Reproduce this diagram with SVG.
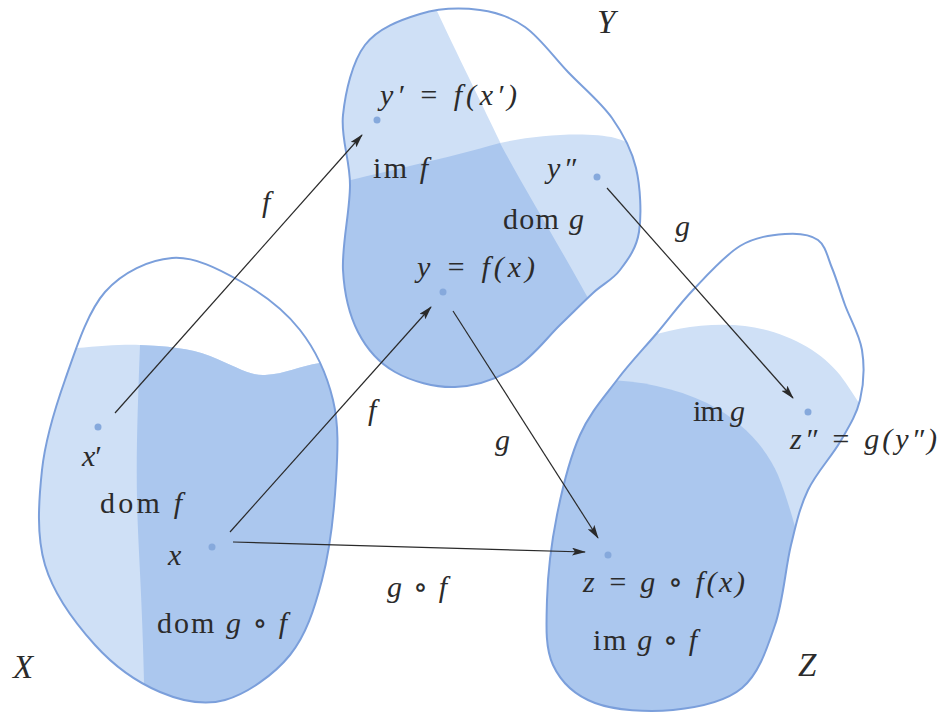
<svg xmlns="http://www.w3.org/2000/svg" width="946" height="713" viewBox="0 0 946 713">
<style>
.out{fill:none;stroke:#7b9fdb;stroke-width:2}
.bg{fill:#ffffff}
.lt{fill:#cfe0f6}
.dk{fill:#abc7ee}
.pt{fill:#86a9dc}
.ar{stroke:#2a2a2a;stroke-width:1.2;fill:none;marker-end:url(#ah)}
text{font-family:"Liberation Serif","DejaVu Serif",serif;font-size:30px;fill:#2b2b2b}
.it{font-style:italic}
.big{font-size:33px;font-style:italic}
</style>
<defs>
<marker id="ah" viewBox="0 0 14 8" refX="13" refY="4" markerWidth="14" markerHeight="8" markerUnits="userSpaceOnUse" orient="auto">
<path d="M0,0 L14,4 L0,8 L3,4 Z" fill="#2a2a2a"/>
</marker>
<path id="pX" d="M172,258 C194.5,256.2 218.7,269 240,281 C261.3,293 284.5,310.2 300,330 C315.5,349.8 327,375 333,400 C339,425 337.8,450 336,480 C334.2,510 329.7,550.8 322,580 C314.3,609.2 306.2,635 290,655 C273.8,675 246.7,693.8 225,700 C203.3,706.2 181.7,701.2 160,692 C138.3,682.8 114.2,666.2 95,645 C75.8,623.8 53.8,594.2 45,565 C36.2,535.8 38.7,500.8 42,470 C45.3,439.2 54.5,409.7 65,380 C75.5,350.3 87.2,312.3 105,292 C122.8,271.7 149.5,259.8 172,258 Z"/>
<path id="pY" d="M480,10 C497.5,12.2 510.3,16.7 525,27 C539.7,37.3 553.5,56.8 568,72 C582.5,87.2 600.7,102 612,118 C623.3,134 631.5,149 636,168 C640.5,187 641.7,215 639,232 C636.3,249 627.7,259.8 620,270 C612.3,280.2 603,283.8 593,293 C583,302.2 573,312.5 560,325 C547,337.5 532.5,357.7 515,368 C497.5,378.3 475,386.3 455,387 C435,387.7 411.2,381.2 395,372 C378.8,362.8 366.7,349 358,332 C349.3,315 344.3,294.5 343,270 C341.7,245.5 350,210.8 350,185 C350,159.2 340.5,138.3 343,115 C345.5,91.7 352.2,61.8 365,45 C377.8,28.2 400.8,19.8 420,14 C439.2,8.2 462.5,7.8 480,10 Z"/>
<path id="pZ" d="M785,234 C798,233 810.2,234.3 818,240 C825.8,245.7 827.5,257.2 832,268 C836.5,278.8 840,291.3 845,305 C850,318.7 859.5,334.2 862,350 C864.5,365.8 863.7,384.7 860,400 C856.3,415.3 848.7,427 840,442 C831.3,457 816.2,472.8 808,490 C799.8,507.2 796.5,522.5 791,545 C785.5,567.5 783.2,601.2 775,625 C766.8,648.8 759,673.8 742,688 C725,702.2 697.5,707.5 673,710 C648.5,712.5 615,710.5 595,703 C575,695.5 561,682.2 553,665 C545,647.8 546.3,625 547,600 C547.7,575 551.5,542.5 557,515 C562.5,487.5 570,457.5 580,435 C590,412.5 604.2,397 617,380 C629.8,363 644.3,348 657,333 C669.7,318 679.2,304.5 693,290 C706.8,275.5 724.7,255.3 740,246 C755.3,236.7 772,235 785,234 Z"/>
<clipPath id="cX"><use href="#pX"/></clipPath>
<clipPath id="cY"><use href="#pY"/></clipPath>
<clipPath id="cZ"><use href="#pZ"/></clipPath>
</defs>
<rect width="946" height="713" fill="#ffffff"/>

<g id="X">
<use href="#pX" class="bg"/>
<g clip-path="url(#cX)">
<path class="lt" d="M0,348 L77,348 C100,346 125,344 140,345 C165,346 190,348 210,356 C235,366 250,376 265,375 C285,374 300,366 320,363 L400,360 L400,720 L0,720 Z"/>
<path class="dk" d="M140,345 C165,346 190,348 210,356 C235,366 250,376 265,375 C285,374 300,366 320,363 L400,360 L400,720 L145,720 C143,600 138,550 137,500 C136,450 138,400 140,345 Z"/>
</g>
<use href="#pX" class="out"/>
<circle class="pt" cx="98" cy="427" r="3.5"/>
<circle class="pt" cx="212" cy="547" r="3.5"/>
<text class="it" x="82" y="466" textLength="18">x′</text>
<text x="100" y="513" textLength="82">dom <tspan class="it">f</tspan></text>
<text class="it" x="168" y="565">x</text>
<text x="157" y="633" textLength="130">dom <tspan class="it">g</tspan> ∘ <tspan class="it">f</tspan></text>
<text class="big" x="13" y="678">X</text>
</g>

<g id="Y">
<use href="#pY" class="bg"/>
<g clip-path="url(#cY)">
<path class="lt" d="M300,0 L432,0 C450,40 485,110 500,142 C525,190 565,255 600,320 L620,420 L300,420 Z"/>
<path class="lt" d="M330,185 C370,175 440,160 500,143 C540,134 590,132 615,138 C630,142 645,150 660,160 L660,420 L330,420 Z"/>
<path class="dk" d="M330,185 C370,175 440,160 500,143 C525,190 565,255 600,320 L620,420 L330,420 Z"/>
</g>
<use href="#pY" class="out"/>
<circle class="pt" cx="377" cy="120" r="3.5"/>
<circle class="pt" cx="443" cy="292" r="3.5"/>
<circle class="pt" cx="597" cy="177" r="3.5"/>
<text class="it" x="380" y="105" textLength="137">y′ = f(x′)</text>
<text x="373" y="178" textLength="55">im <tspan class="it">f</tspan></text>
<text class="it" x="547" y="178" textLength="29">y″</text>
<text x="503" y="229" textLength="81">dom <tspan class="it">g</tspan></text>
<text class="it" x="417" y="277" textLength="118">y = f(x)</text>
<text class="big" x="597" y="33">Y</text>
</g>

<g id="Z">
<use href="#pZ" class="bg"/>
<g clip-path="url(#cZ)">
<path class="lt" d="M640,340 C670,328 710,322 745,326 C785,331 820,350 840,375 C850,388 860,405 870,420 L870,713 L540,713 L540,340 Z"/>
<path class="dk" d="M600,380 C640,380 675,388 707,403 C740,420 765,445 778,475 C786,495 792,515 800,545 L800,713 L540,713 L540,380 Z"/>
</g>
<use href="#pZ" class="out"/>
<circle class="pt" cx="808" cy="412" r="3.5"/>
<circle class="pt" cx="608" cy="555" r="3.5"/>
<text x="693" y="421" textLength="52">im <tspan class="it">g</tspan></text>
<text class="it" x="790" y="449" textLength="147">z″ = g(y″)</text>
<text class="it" x="583" y="592" textLength="162">z = g ∘ f(x)</text>
<text x="593" y="650" textLength="104">im <tspan class="it">g</tspan> ∘ <tspan class="it">f</tspan></text>
<text class="big" x="798" y="676">Z</text>
</g>

<g id="connectors">
<line class="ar" x1="115" y1="413" x2="362" y2="135"/>
<line class="ar" x1="230" y1="532" x2="431" y2="307"/>
<line class="ar" x1="453" y1="311" x2="598" y2="538"/>
<line class="ar" x1="233" y1="542" x2="585" y2="552"/>
<line class="ar" x1="607" y1="188" x2="793" y2="398"/>
<text class="it" x="262" y="212">f</text>
<text class="it" x="368" y="420">f</text>
<text class="it" x="495" y="450">g</text>
<text class="it" x="675" y="236">g</text>
<text class="it" x="387" y="597" textLength="60">g ∘ f</text>
</g>
</svg>
